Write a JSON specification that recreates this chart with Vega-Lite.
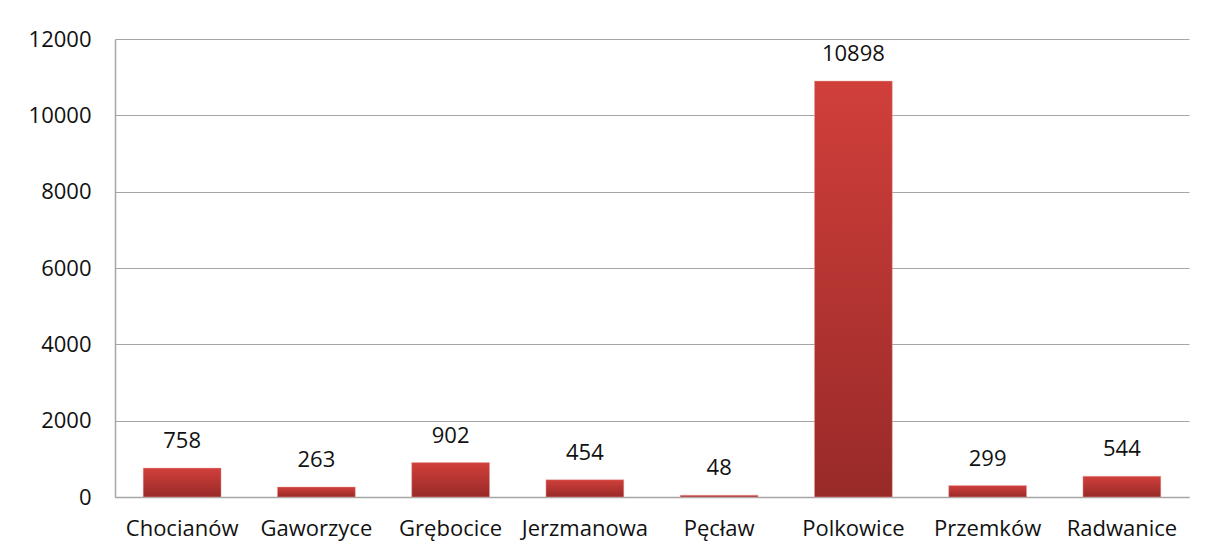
{
  "$schema": "https://vega.github.io/schema/vega-lite/v6.json",
  "width": 1074,
  "height": 458,
  "autosize": {"type": "none"},
  "padding": {"left": 115, "top": 39, "right": 16, "bottom": 57},
  "background": "white",
  "config": {
    "view": {"stroke": null},
    "font": "Open Sans"
  },
  "data": {
    "values": [
      {"gmina": "Chocianów", "value": 758},
      {"gmina": "Gaworzyce", "value": 263},
      {"gmina": "Grębocice", "value": 902},
      {"gmina": "Jerzmanowa", "value": 454},
      {"gmina": "Pęcław", "value": 48},
      {"gmina": "Polkowice", "value": 10898},
      {"gmina": "Przemków", "value": 299},
      {"gmina": "Radwanice", "value": 544}
    ]
  },
  "encoding": {
    "x": {
      "field": "gmina",
      "type": "nominal",
      "sort": null,
      "scale": {"paddingInner": 0.42, "paddingOuter": 0.21},
      "axis": {
        "title": null,
        "labelAngle": 0,
        "labelFontSize": 22,
        "labelColor": "#111111",
        "labelPadding": 21,
        "ticks": false,
        "domainColor": "#a6a6a6",
        "domainWidth": 1.5
      }
    },
    "y": {
      "field": "value",
      "type": "quantitative",
      "scale": {"domain": [0, 12000], "nice": false},
      "axis": {
        "title": null,
        "values": [0, 2000, 4000, 6000, 8000, 10000, 12000],
        "format": "d",
        "labelFontSize": 22,
        "labelColor": "#111111",
        "labelPadding": 24,
        "ticks": false,
        "domainColor": "#a6a6a6",
        "domainWidth": 1.5,
        "gridColor": "#a6a6a6",
        "gridWidth": 1.2
      }
    }
  },
  "layer": [
    {
      "mark": {
        "type": "bar",
        "stroke": "#e8a8a6",
        "strokeWidth": 0.8,
        "strokeOpacity": 0.6,
        "color": {
          "gradient": "linear",
          "x1": 0, "y1": 0, "x2": 0, "y2": 1,
          "stops": [
            {"offset": 0, "color": "#d13f3b"},
            {"offset": 1, "color": "#982a28"}
          ]
        }
      }
    },
    {
      "mark": {
        "type": "text",
        "baseline": "bottom",
        "dy": -15,
        "fontSize": 22,
        "color": "#111111"
      },
      "encoding": {
        "text": {"field": "value", "type": "quantitative", "format": "d"}
      }
    }
  ]
}
